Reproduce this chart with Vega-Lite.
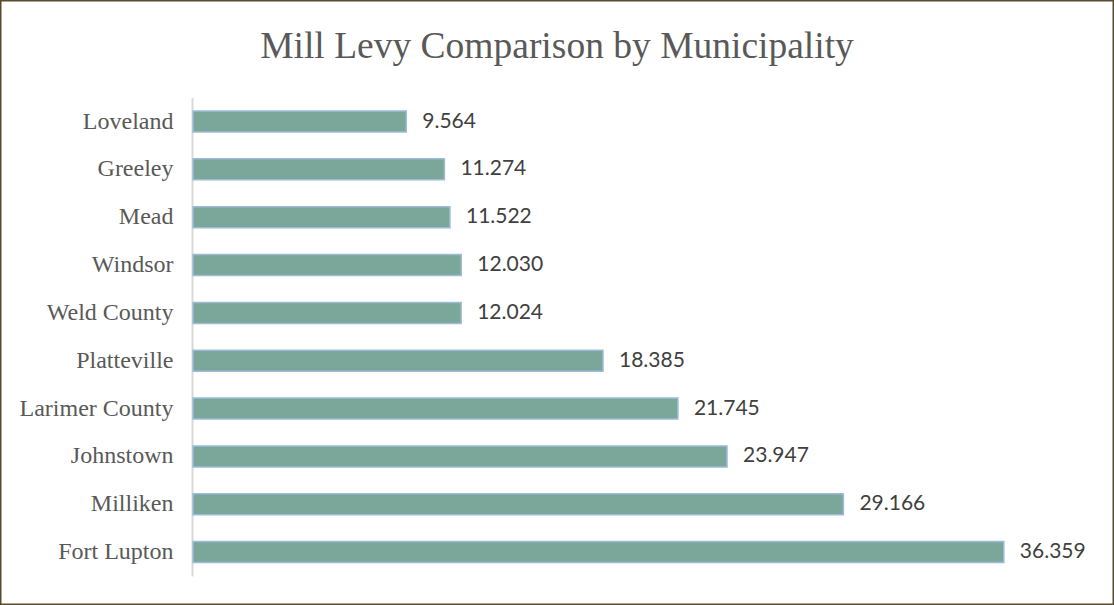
{
  "$schema": "https://vega.github.io/schema/vega-lite/v6.json",
  "width": 1114,
  "height": 605,
  "autosize": {"type": "none"},
  "padding": 0,
  "background": "white",
  "config": {"view": {"stroke": "#5a4a2e", "strokeWidth": 3}},
  "title": {
    "text": "Mill Levy Comparison by Municipality",
    "font": "Liberation Serif",
    "fontSize": 37.5,
    "fontWeight": "normal",
    "color": "#595959",
    "offset": -65,
    "anchor": "middle"
  },
  "data": {
    "values": [
      {"municipality": "Loveland", "levy": 9.564},
      {"municipality": "Greeley", "levy": 11.274},
      {"municipality": "Mead", "levy": 11.522},
      {"municipality": "Windsor", "levy": 12.030},
      {"municipality": "Weld County", "levy": 12.024},
      {"municipality": "Platteville", "levy": 18.385},
      {"municipality": "Larimer County", "levy": 21.745},
      {"municipality": "Johnstown", "levy": 23.947},
      {"municipality": "Milliken", "levy": 29.166},
      {"municipality": "Fort Lupton", "levy": 36.359}
    ]
  },
  "encoding": {
    "y": {
      "field": "municipality",
      "type": "nominal",
      "sort": null,
      "scale": {"range": [97.6, 576], "paddingInner": 0.561, "paddingOuter": 0.2805},
      "axis": {
        "title": null,
        "domain": true,
        "domainColor": "#d9d9d9",
        "domainWidth": 2,
        "ticks": false,
        "offset": -192,
        "labelFont": "Liberation Serif",
        "labelFontSize": 24,
        "labelColor": "#595959",
        "labelPadding": 19,
        "labelLimit": 0
      }
    }
  },
  "layer": [
    {
      "mark": {"type": "bar", "fill": "#7ba69a", "stroke": "#9cbcd8", "strokeWidth": 1.5},
      "encoding": {
        "x": {
          "field": "levy",
          "type": "quantitative",
          "scale": {"domain": [-8.655, 41.30], "nice": false, "zero": false},
          "axis": null
        },
        "x2": {"datum": 0}
      }
    },
    {
      "mark": {"type": "text", "align": "left", "baseline": "middle", "dx": 16, "font": "Lato", "fontSize": 21, "color": "#404040"},
      "encoding": {
        "x": {"field": "levy", "type": "quantitative"},
        "text": {"field": "levy", "type": "quantitative", "format": ".3f"}
      }
    }
  ]
}
